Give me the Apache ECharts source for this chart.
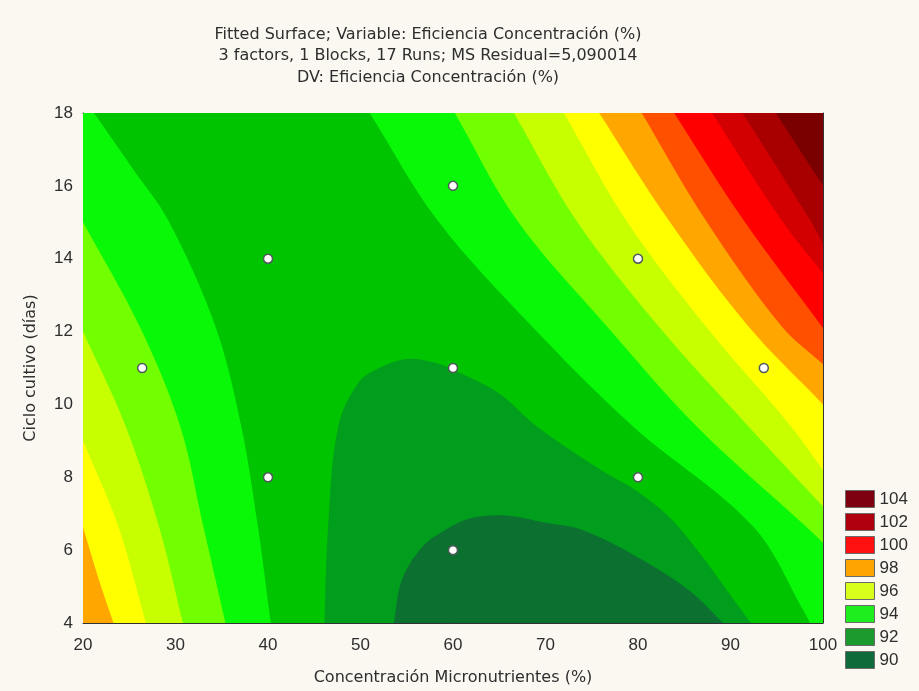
<!DOCTYPE html>
<html>
<head>
<meta charset="utf-8">
<script src="https://cdn.jsdelivr.net/npm/echarts@6/dist/echarts.min.js"></script>
<style>
  html, body { margin: 0; padding: 0; background: #fbf8f1; }
  #chart { width: 919px; height: 691px; }
</style>
</head>
<body>
<div id="chart"></div>
<script>
// Axis extents and ticks
const xRange = [20, 100];
const yRange = [4, 18];
const xStep = 10;
const yStep = 2;

// Design points of the experiment (Concentración, Ciclo)
const runsX = [26.4, 40, 40, 60, 60, 60, 80, 80, 93.6];
const runsY = [11, 14, 8, 16, 11, 6, 14, 8, 11];

// Legend entries
const legendLabels = ['104', '102', '100', '98', '96', '94', '92', '90'];
const legendColors = ['#7e0010', '#b0000e', '#ff1010', '#ffa400', '#d8ff1c', '#1eee1e', '#1c9a2e', '#0f6a3a'];

// Contour lines of the fitted surface, each traced edge to edge as [x, y]
const valley91 = [[53.6, 4], [54.5, 5.2], [56.7, 6.1], [58.8, 6.5], [62, 6.88], [65.7, 6.95], [70, 6.75], [74, 6.55], [80, 5.8], [85.5, 4.9], [89.2, 4]];
const valley92 = [[46.1, 4], [46.5, 6.66], [47.6, 9.41], [49.8, 10.6], [52, 11.0], [55, 11.25], [58, 11.15], [60, 10.95], [65, 10.3], [69, 9.41], [76, 8.2], [80, 7.6], [84.3, 6.66], [92.2, 4]];
const left93 = [[21.2, 18], [25.3, 16.5], [29.2, 15.06], [34.3, 12.15], [37.1, 9.41], [38.9, 6.66], [40.3, 4]];
const left94 = [[20, 15.0], [26.1, 12.15], [30.5, 9.41], [33.0, 6.66], [35.4, 4]];
const left95 = [[20, 12.0], [24.6, 9.41], [28.2, 6.66], [30.8, 4]];
const left96 = [[20, 9.0], [23.8, 6.66], [26.8, 4]];
const left97 = [[20, 6.63], [21.7, 5.2], [23.3, 4]];
const right93 = [[51.0, 18], [58.3, 15.06], [68.5, 12.15], [79.4, 9.41], [92.4, 6.66], [98.1, 4.25], [98.6, 4]];
const right94 = [[60.2, 18], [66.9, 15.06], [76.6, 12.15], [86.3, 9.41], [98.1, 6.66], [100, 6.2]];
const right95 = [[66.6, 18], [73.3, 15.06], [82.2, 12.15], [91.9, 9.41], [100, 7.2]];
const right96 = [[72.0, 18], [78.7, 15.06], [87.3, 12.15], [96.5, 9.41], [100, 8.2]];
const right97 = [[75.8, 18], [83.3, 15.06], [91.9, 12.15], [100, 10.0]];
const right98 = [[80.4, 18], [87.3, 15.06], [95.5, 12.15], [100, 11.1]];
const right99 = [[83.9, 18], [91.4, 15.06], [100, 12.1]];
const right100 = [[88.0, 18], [95.5, 15.06], [100, 13.6]];
const right101 = [[91.3, 18], [98.6, 15.06], [100, 14.4]];
const right102 = [[94.9, 18], [100, 16.0]];

// Fill colours of the 1-unit bands
const bandColors = {
  b90: '#0b7030', b91: '#009e1c', b92: '#00c400', b93: '#08f808',
  b94: '#72ff00', b95: '#c8ff00', b96: '#ffff00', b97: '#ffa600',
  b98: '#ff5000', b99: '#ff0000', b100: '#d20000', b101: '#a80000', b102: '#7a0000'
};

// Filled regions, painted in order; each one is a contour plus the plot corners that close it
const regions = [
  { line: [], corners: ['BL', 'BR', 'TR', 'TL'], color: bandColors.b92 },
  { line: valley92, corners: [], color: bandColors.b91 },
  { line: valley91, corners: [], color: bandColors.b90 },
  { line: left93, corners: ['BL', 'TL'], color: bandColors.b93 },
  { line: left94, corners: ['BL'], color: bandColors.b94 },
  { line: left95, corners: ['BL'], color: bandColors.b95 },
  { line: left96, corners: ['BL'], color: bandColors.b96 },
  { line: left97, corners: ['BL'], color: bandColors.b97 },
  { line: right93, corners: ['BR', 'TR'], color: bandColors.b93 },
  { line: right94, corners: ['TR'], color: bandColors.b94 },
  { line: right95, corners: ['TR'], color: bandColors.b95 },
  { line: right96, corners: ['TR'], color: bandColors.b96 },
  { line: right97, corners: ['TR'], color: bandColors.b97 },
  { line: right98, corners: ['TR'], color: bandColors.b98 },
  { line: right99, corners: ['TR'], color: bandColors.b99 },
  { line: right100, corners: ['TR'], color: bandColors.b100 },
  { line: right101, corners: ['TR'], color: bandColors.b101 },
  { line: right102, corners: ['TR'], color: bandColors.b102 }
];

const corners = {
  BL: [xRange[0], yRange[0]], BR: [xRange[1], yRange[0]],
  TR: [xRange[1], yRange[1]], TL: [xRange[0], yRange[1]]
};

const WIDE = '"DejaVu Sans", Verdana, sans-serif';
const NUM = '"Liberation Sans", Arial, sans-serif';
const TEXT = '#2e2e2e';

// Contour endpoints and corners are doubled so the smoothing keeps them sharp
function regionPoints(region, api) {
  const pts = [];
  const add = (p, sharp) => {
    const c = api.coord(p);
    pts.push(c);
    if (sharp) pts.push([c[0], c[1]]);
  };
  const n = region.line.length;
  region.line.forEach((p, i) => add(p, i === 0 || i === n - 1));
  region.corners.forEach(k => add(corners[k], true));
  return pts;
}

const chart = echarts.init(document.getElementById('chart'));

const axisCommon = {
  type: 'value',
  axisLine: { show: true, onZero: false, lineStyle: { color: '#333', width: 1 } },
  axisTick: { show: true, inside: true, length: 4, lineStyle: { color: '#333' } },
  splitLine: { show: false }
};

chart.setOption({
  backgroundColor: '#fbf8f1',
  animation: false,
  title: {
    text: 'Fitted Surface; Variable: Eficiencia Concentración (%)\n3 factors, 1 Blocks, 17 Runs; MS Residual=5,090014\nDV: Eficiencia Concentración (%)',
    left: 428,
    top: 24,
    padding: 0,
    textAlign: 'center',
    textStyle: { fontFamily: WIDE, fontSize: 16, fontWeight: 'normal', color: TEXT, lineHeight: 21.5 }
  },
  grid: { left: 83, top: 113, width: 740, height: 510, containLabel: false },
  xAxis: [
    Object.assign({}, axisCommon, {
      position: 'bottom', min: xRange[0], max: xRange[1], interval: xStep,
      name: 'Concentración Micronutrientes (%)', nameLocation: 'middle', nameGap: 47,
      nameTextStyle: { fontFamily: WIDE, fontSize: 16, color: TEXT },
      axisLabel: { margin: 14, fontFamily: NUM, fontSize: 17, color: TEXT }
    }),
    Object.assign({}, axisCommon, {
      position: 'top', min: xRange[0], max: xRange[1], interval: xStep,
      axisLabel: { show: false }
    })
  ],
  yAxis: [
    Object.assign({}, axisCommon, {
      position: 'left', min: yRange[0], max: yRange[1], interval: yStep,
      name: 'Ciclo cultivo (días)', nameLocation: 'middle', nameGap: 44,
      nameTextStyle: { fontFamily: WIDE, fontSize: 16, color: TEXT },
      axisLabel: { margin: 10, fontFamily: NUM, fontSize: 17, color: TEXT }
    }),
    Object.assign({}, axisCommon, {
      position: 'right', min: yRange[0], max: yRange[1], interval: yStep,
      axisLabel: { show: false }
    })
  ],
  legend: {
    data: legendLabels,
    orient: 'vertical',
    left: 845,
    top: 490,
    padding: 0,
    itemWidth: 29,
    itemHeight: 17,
    itemGap: 5,
    icon: 'rect',
    selectedMode: false,
    itemStyle: { borderColor: '#6a6a6a', borderWidth: 1, opacity: 1 },
    textStyle: { fontFamily: NUM, fontSize: 17, color: TEXT }
  },
  series: [
    {
      type: 'custom',
      name: 'surface',
      coordinateSystem: 'cartesian2d',
      clip: true,
      silent: true,
      z: 1,
      data: regions.map((r, i) => [60, 11, i]),
      renderItem: function (params, api) {
        const region = regions[api.value(2)];
        return {
          type: 'polygon',
          shape: { points: regionPoints(region, api), smooth: 0.35 },
          style: { fill: region.color, stroke: null }
        };
      }
    },
    {
      type: 'scatter',
      name: 'runs',
      z: 5,
      symbol: 'circle',
      symbolSize: 9,
      itemStyle: { color: '#ffffff', borderColor: '#4f5a5a', borderWidth: 1.5, opacity: 1 },
      data: runsX.map((x, i) => [x, runsY[i]])
    }
  ].concat(legendLabels.map((label, i) => ({
    type: 'scatter',
    name: label,
    data: [],
    itemStyle: { color: legendColors[i], opacity: 1 }
  })))
});
</script>
</body>
</html>
